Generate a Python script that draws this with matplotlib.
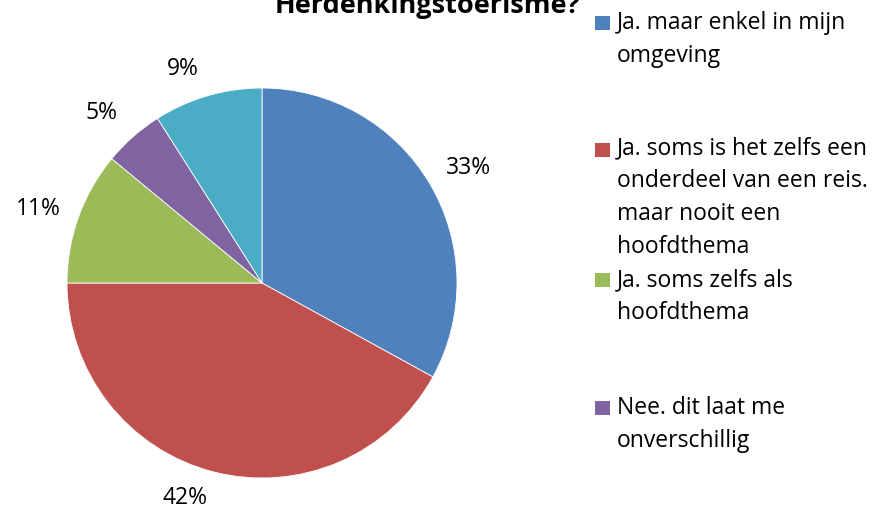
import matplotlib
matplotlib.use("Agg")
import matplotlib.pyplot as plt
from matplotlib.patches import Rectangle
import numpy as np

plt.rcParams['font.family'] = ['Open Sans', 'DejaVu Sans']

title = "Herdenkingstoerisme?"
labels = ["Ja. maar enkel in mijn\nomgeving",
          "Ja. soms is het zelfs een\nonderdeel van een reis.\nmaar nooit een\nhoofdthema",
          "Ja. soms zelfs als\nhoofdthema",
          "Nee. dit laat me\nonverschillig",
          "Nee"]
values = [33, 42, 11, 5, 9]
colors = ['#4F81BD', '#C0504D', '#9BBB59', '#8064A2', '#4BACC6']

# label placement (distance from centre in radii, angle shift in degrees)
label_dist = [1.21, 1.17, 1.21, 1.20, 1.17]
label_shift = [-1.5, -5.3, 1.5, 2.0, 4.0]

W, H = 874, 512
fig = plt.figure(figsize=(W / 100, H / 100), dpi=100)

cx, cy, r = 262, 283, 195
ax = fig.add_axes([(cx - r) / W, (H - cy - r) / H, 2 * r / W, 2 * r / H])
wedges, _ = ax.pie(values, colors=colors, startangle=90, counterclock=False,
                   radius=1, wedgeprops=dict(linewidth=0.6, edgecolor='white'))
ax.set_xlim(-1, 1)
ax.set_ylim(-1, 1)
ax.set_aspect('auto')
ax.axis('off')

total = sum(values)
for w, v, d, s in zip(wedges, values, label_dist, label_shift):
    ang = np.deg2rad((w.theta1 + w.theta2) / 2 + s)
    ax.text(d * np.cos(ang), d * np.sin(ang), "%d%%" % round(100 * v / total),
            ha='center', va='center', fontsize=16.5, clip_on=False)

fig.text(427 / W, 1 - 13 / H, title, ha='center', va='baseline',
         fontsize=19.5, fontweight='bold')

# manual legend (only the visible entries); baseline of each first line
baselines = [30, 157, 287, 415]
line_px = 32
for lab, col, b in zip(labels[:4], colors[:4], baselines):
    fig.patches.append(Rectangle((595 / W, 1 - b / H), 15 / W, 14 / H,
                                 transform=fig.transFigure, facecolor=col,
                                 edgecolor='none'))
    # va='baseline' aligns the last line, so shift down by the extra lines
    last = b + line_px * lab.count('\n')
    fig.text(617 / W, 1 - last / H, lab, ha='left', va='baseline',
             fontsize=16.5, linespacing=1.5)

fig.savefig("out.png", dpi=100)
